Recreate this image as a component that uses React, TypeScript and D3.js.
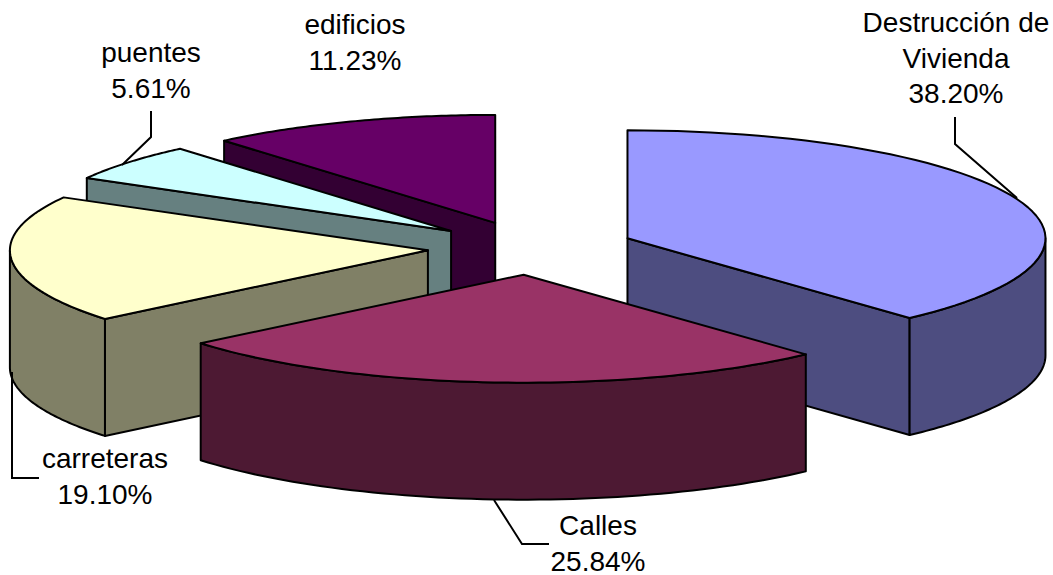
import React from "react";
import * as d3 from "d3";

const categories = ["Destrucción de Vivienda", "Calles", "carreteras", "puentes", "edificios"];
const values = [38.2, 25.84, 19.1, 5.61, 11.23];
const labelLines = [["Destrucción de", "Vivienda", "38.20%"], ["Calles", "25.84%"], ["carreteras", "19.10%"], ["puentes", "5.61%"], ["edificios", "11.23%"]];
const topColors = ["#9999FF", "#993366", "#FFFFCC", "#CCFFFF", "#660066"];
const wallColors = ["#4D4D80", "#4D1933", "#808066", "#668080", "#330033"];
const labelX = [956, 598, 105, 151, 355];
const labelY = [32, 535, 468, 62, 34];
const leaders: [number, number][][] = [
  [[1017, 198], [955, 144], [955, 117]],
  [[494, 500], [522, 544], [549, 544]],
  [[12, 372], [12, 478], [39, 478]],
  [[122, 165], [151, 137], [151, 111]],
  [],
];
const paintOrder = [4, 3, 2, 0, 1];

const W = 1053, H = 575, CX = 531, CY = 248, RX = 418, RY = 108, DEPTH = 117, EXPLODE = 0.2476;
const LINE_H = 35.5;

export default function App() {
  const arcs = d3.pie<number>().sort(null)(values);
  const sx = d3.scaleLinear().domain([-1, 1]).range([-RX, RX]);
  const sy = d3.scaleLinear().domain([-1, 1]).range([RY, -RY]);
  const pos = (a: number, r = 1) => [sx(Math.sin(a) * r), sy(Math.cos(a) * r)] as [number, number];
  const line = d3.line();
  const rimPts = (a0: number, a1: number, ox: number, oy: number) =>
    d3.range(0, 61).map((i) => {
      const [x, y] = pos(a0 + ((a1 - a0) * i) / 60);
      return [x + ox, y + oy] as [number, number];
    });

  return (
    <svg width={W} height={H} style={{ position: "absolute", left: 0, top: 0 }}>
      <rect width={W} height={H} fill="#fff" />
      {paintOrder.map((i) => {
        const { startAngle: a0, endAngle: a1 } = arcs[i];
        const mid = (a0 + a1) / 2;
        const [ex, ey] = pos(mid, EXPLODE);
        const ox = CX + ex, oy = CY + ey;
        const rim = rimPts(a0, a1, ox, oy);
        const wall = (a: number) => {
          const [x, y] = pos(a);
          const p: [number, number] = [x + ox, y + oy];
          return line([[ox, oy], p, [p[0], p[1] + DEPTH], [ox, oy + DEPTH]]) + "Z";
        };
        const vis0 = Math.max(a0, Math.PI / 2), vis1 = Math.min(a1, (3 * Math.PI) / 2);
        let outer: string | null = null;
        if (vis1 > vis0) {
          const top = rimPts(vis0, vis1, ox, oy);
          const bottom = top.map(([x, y]) => [x, y + DEPTH] as [number, number]).reverse();
          outer = line([...top, ...bottom]) + "Z";
        }
        return (
          <g key={categories[i]} stroke="#000" strokeWidth={2} strokeLinejoin="round">
            {Math.sin(a0) < -1e-6 && <path d={wall(a0)} fill={wallColors[i]} />}
            {Math.sin(a1) > 1e-6 && <path d={wall(a1)} fill={wallColors[i]} />}
            {outer && <path d={outer} fill={wallColors[i]} />}
            <path d={line([[ox, oy], ...rim]) + "Z"} fill={topColors[i]} />
          </g>
        );
      })}
      {leaders.map((l, i) =>
        l.length ? <path key={i} d={line(l) ?? ""} fill="none" stroke="#000" strokeWidth={2} /> : null
      )}
      {labelLines.map((lines, i) => (
        <text key={i} textAnchor="middle" fontFamily="'Liberation Sans', Arial, sans-serif" fontSize={28} fill="#000">
          {lines.map((t, j) => (
            <tspan key={j} x={labelX[i]} y={labelY[i] + j * LINE_H}>{t}</tspan>
          ))}
        </text>
      ))}
    </svg>
  );
}
